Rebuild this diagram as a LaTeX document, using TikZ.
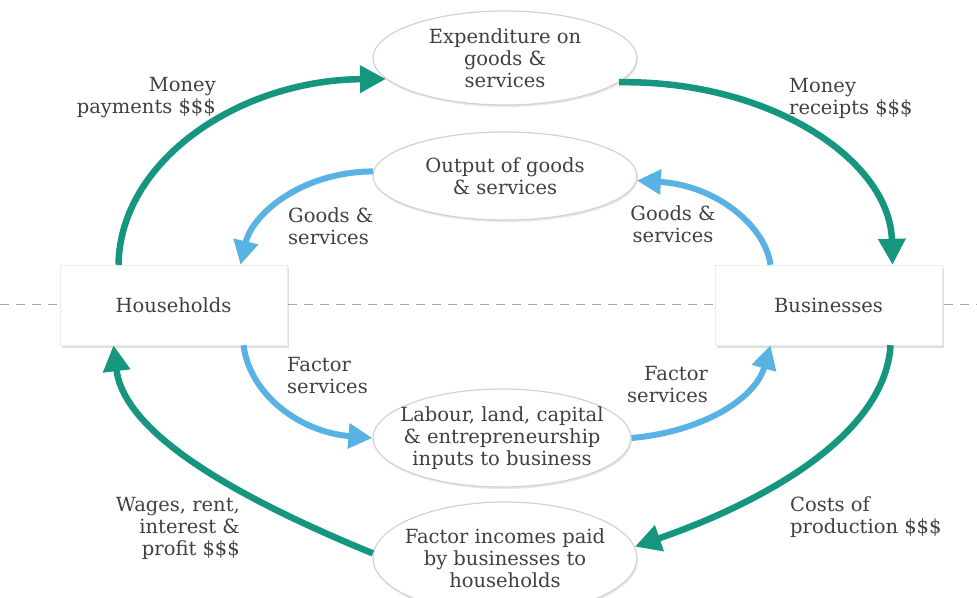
\documentclass[tikz,border=0pt]{standalone}
\usepackage{fontspec}
\setmainfont{DejaVu Serif}
\usetikzlibrary{arrows.meta,shapes.geometric,shadows}
\definecolor{mgreen}{HTML}{17967F}
\definecolor{mblue}{HTML}{58B3E4}
\definecolor{txt}{HTML}{404040}
\begin{document}
\begin{tikzpicture}[x=1pt,y=-1pt,
  every node/.style={text=txt,font=\fontsize{19.5}{22}\selectfont},
  bubble/.style={ellipse,draw=gray!35,line width=1.2pt,fill=white,minimum width=264pt,align=center,
    inner xsep=-40pt,inner ysep=-12pt,
    drop shadow={shadow xshift=1pt,shadow yshift=-2pt,opacity=0.18}},
  sector/.style={rectangle,draw=gray!15,fill=white,minimum width=227pt,minimum height=80pt,
    drop shadow={shadow xshift=2pt,shadow yshift=-3pt,opacity=0.25}},
  labl/.style={align=left,inner sep=0pt},
  labr/.style={align=right,inner sep=0pt},
  gflow/.style={draw=mgreen,line width=6.5pt,-{Triangle[length=26pt,width=26pt]}},
  bflow/.style={draw=mblue,line width=6pt,-{Triangle[length=24pt,width=24pt]}},
  divider/.style={draw=gray!70,line width=1pt,dash pattern=on 9pt off 7pt}]
\useasboundingbox[fill=white] (0,0) rectangle (977,597);
\coordinate (dl) at (0,304);
\coordinate (dr) at (977,304);
\draw[divider] (dl) -- (dr);

\node[sector] (hh) at (173.5,305) {Households};
\node[sector] (biz) at (828.5,305) {Businesses};

\node[bubble,minimum height=94pt] (exp) at (505,58) {Expenditure on\\goods \&\\services};
\node[bubble,minimum height=88pt] (out) at (505,176) {Output of goods\\\& services};
\node[bubble,minimum height=98pt,minimum width=258pt] (lab) at (502,438) {Labour, land, capital\\\& entrepreneurship\\inputs to business};
\node[bubble,minimum height=112pt] (fi) at (505,558) {Factor incomes paid\\by businesses to\\households};

% green money flows
\draw[gflow] ([xshift=-55pt]hh.north) .. controls (120,160) and (240,80) .. (exp.190);
\draw[gflow] (exp.-12) .. controls (770,80) and (890,160) .. ([xshift=64pt]biz.north);
\draw[gflow] ([xshift=62pt]biz.south) .. controls (885,440) and (750,507) .. (fi.5);
\draw[gflow] (fi.178) .. controls (260,507) and (125,440) .. ([xshift=-60pt]hh.south);

% blue real flows
\draw[bflow] (out.178) .. controls (300,172) and (252,215) .. ([xshift=67pt]hh.north);
\draw[bflow] ([xshift=-58pt]biz.north) .. controls (765,225) and (715,185) .. (out.-2);
\draw[bflow] ([xshift=70pt]hh.south) .. controls (250,395) and (300,432) .. (lab.west);
\draw[bflow] (lab.east) .. controls (700,432) and (755,400) .. ([xshift=-58pt]biz.south);

% labels
\node[labr,anchor=east] (l1) at (216,98) {Money\\payments \$\$\$};
\node[labl,anchor=west] (l2) at (789,98) {Money\\receipts \$\$\$};
\node[labl,anchor=west] (l3) at (288,226) {Goods \&\\services};
\node[align=center,inner sep=0pt] (l4) at (673,224) {Goods \&\\services};
\node[labl,anchor=west] (l5) at (287,376) {Factor\\services};
\node[labr,anchor=east] (l6) at (708,385) {Factor\\services};
\node[labr,anchor=east] (l7) at (240,528) {Wages, rent,\\interest \&\\profit \$\$\$};
\node[labl,anchor=west] (l8) at (790,517) {Costs of\\production \$\$\$};
\end{tikzpicture}
\end{document}
